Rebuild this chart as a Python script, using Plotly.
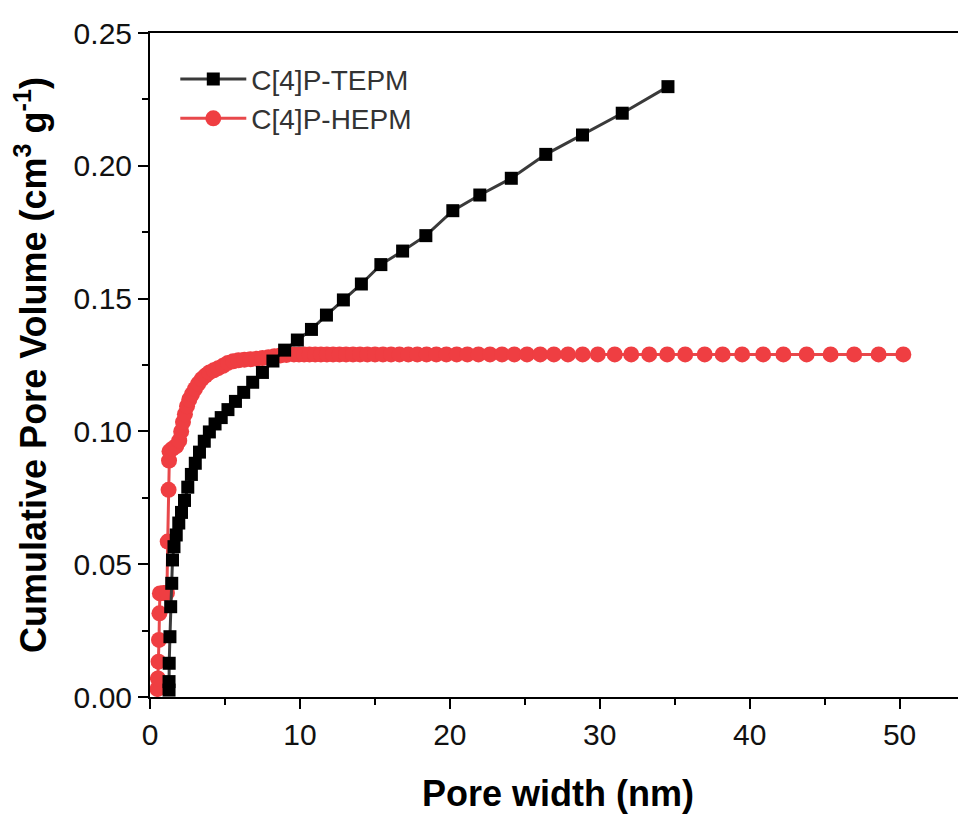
import plotly.graph_objects as go

# ---- data ----
tepm_width = [1.27, 1.27, 1.28, 1.33, 1.38, 1.45, 1.50, 1.60, 1.75, 1.92, 2.10, 2.30, 2.52, 2.76,
              3.02, 3.30, 3.62, 3.96, 4.34, 4.75, 5.20, 5.70, 6.25, 6.85, 7.50, 8.20, 8.98, 9.83,
              10.77, 11.77, 12.90, 14.10, 15.40, 16.85, 18.40, 20.20, 22.00, 24.10, 26.40, 28.85,
              31.50, 34.55]
tepm_volume = [0.0026, 0.0058, 0.0127, 0.0227, 0.0340, 0.0428, 0.0516, 0.0566, 0.0610, 0.0655,
               0.0695, 0.0740, 0.0790, 0.0838, 0.0880, 0.0922, 0.0963, 0.0998, 0.1028, 0.1052,
               0.1082, 0.1113, 0.1147, 0.1185, 0.1222, 0.1265, 0.1306, 0.1344, 0.1384, 0.1438,
               0.1495, 0.1555, 0.1628, 0.1679, 0.1737, 0.1831, 0.1890, 0.1953, 0.2043, 0.2116,
               0.2198, 0.2298]

hepm_width = [0.50, 0.53, 0.57, 0.60, 0.63, 0.66, 0.90, 1.13, 1.18, 1.24, 1.27, 1.30, 1.50, 1.75,
              1.95, 2.08, 2.20, 2.33, 2.47, 2.62, 2.80, 3.00, 3.22, 3.45, 3.70, 3.96, 4.25, 4.55,
              4.87, 5.20, 5.55, 5.90, 6.30, 6.70, 7.10, 7.50, 7.90, 8.30, 8.70, 9.10,
              9.60, 9.94, 10.28, 10.64, 11.02, 11.40, 11.80, 12.21, 12.64, 13.08, 13.54, 14.01,
              14.50, 15.01, 15.54, 16.08, 16.64, 17.23, 17.83, 18.45, 19.10, 19.77, 20.46, 21.17,
              21.91, 22.68, 23.48, 24.30, 25.15, 26.03, 26.94, 27.88, 28.86, 29.87, 31.00, 32.10,
              33.30, 34.50, 35.70, 37.00, 38.20, 39.50, 40.90, 42.25, 43.80, 45.40, 46.97, 48.60,
              50.25]
hepm_volume = [0.0030, 0.0070, 0.0133, 0.0215, 0.0315, 0.0390, 0.0392, 0.0392, 0.0585, 0.0780,
               0.0890, 0.0925, 0.0935, 0.0945, 0.0965, 0.1000, 0.1035, 0.1065, 0.1095, 0.1120,
               0.1140, 0.1160, 0.1180, 0.1197, 0.1210, 0.1222, 0.1230, 0.1238, 0.1247, 0.1258,
               0.1264, 0.1268, 0.1270, 0.1272, 0.1274, 0.1276, 0.1279, 0.1283, 0.1286, 0.1288,
               0.1290, 0.1290, 0.1290, 0.1290, 0.1290, 0.1290, 0.1290, 0.1290, 0.1290, 0.1290,
               0.1290, 0.1290, 0.1290, 0.1290, 0.1290, 0.1290, 0.1290, 0.1290, 0.1290, 0.1290,
               0.1290, 0.1290, 0.1290, 0.1290, 0.1290, 0.1290, 0.1290, 0.1290, 0.1290, 0.1290,
               0.1290, 0.1290, 0.1290, 0.1290, 0.1290, 0.1290, 0.1290, 0.1290, 0.1290, 0.1290,
               0.1290, 0.1290, 0.1290, 0.1290, 0.1290, 0.1290, 0.1290, 0.1290, 0.1290]

series_names = ["C[4]P-TEPM", "C[4]P-HEPM"]
x_title = "Pore width (nm)"
y_title = "Cumulative Pore Volume (cm<sup>3</sup> g<sup>-1</sup>)"

assert len(tepm_width) == len(tepm_volume)
assert len(hepm_width) == len(hepm_volume)

FONT = "Liberation Sans, Arial, Helvetica, sans-serif"

fig = go.Figure()
fig.add_trace(go.Scatter(
    x=hepm_width, y=hepm_volume, name=series_names[1], mode="lines+markers",
    line=dict(color="#E8484B", width=3),
    marker=dict(symbol="circle", size=16, color="#EF3E42", line=dict(width=0)),
))
fig.add_trace(go.Scatter(
    x=tepm_width, y=tepm_volume, name=series_names[0], mode="lines+markers",
    line=dict(color="#3a3a3a", width=3),
    marker=dict(symbol="square", size=13, color="#000000", line=dict(width=0)),
))

fig.update_layout(
    width=966, height=815,
    margin=dict(l=142, r=8, t=25, b=126),
    paper_bgcolor="white", plot_bgcolor="white",
    font=dict(family=FONT, size=30, color="#111111"),
    showlegend=True,
    legend=dict(
        x=0.031, y=0.968, xanchor="left", yanchor="top",
        traceorder="reversed",
        font=dict(family=FONT, size=28, color="#333333"),
        bgcolor="rgba(0,0,0,0)", borderwidth=0,
        itemwidth=66, tracegroupgap=0,
    ),
    xaxis=dict(
        range=[0, 54.43], dtick=10, tick0=0, automargin=False,
        showgrid=False, zeroline=False,
        showline=True, linecolor="#000000", linewidth=2, mirror=True,
        ticks="outside", ticklen=10, tickwidth=2, tickcolor="#000000",
        minor=dict(dtick=5, ticks="outside", ticklen=6, tickwidth=2, tickcolor="#000000", showgrid=False),
        tickfont=dict(family=FONT, size=30, color="#111111"),
        title=dict(text="<b>" + x_title + "</b>", font=dict(family=FONT, size=36, color="#000000"), standoff=31),
    ),
    yaxis=dict(
        range=[0, 0.25], dtick=0.05, tick0=0, tickformat=".2f", automargin=False,
        showgrid=False, zeroline=False,
        showline=True, linecolor="#000000", linewidth=2, mirror=False,
        ticks="outside", ticklen=10, tickwidth=2, tickcolor="#000000",
        minor=dict(dtick=0.025, ticks="outside", ticklen=6, tickwidth=2, tickcolor="#000000", showgrid=False),
        tickfont=dict(family=FONT, size=30, color="#111111"),
        title=dict(text="<b>" + y_title + "</b>", font=dict(family=FONT, size=36, color="#000000"), standoff=20),
    ),
)

fig.write_html("out.html")
